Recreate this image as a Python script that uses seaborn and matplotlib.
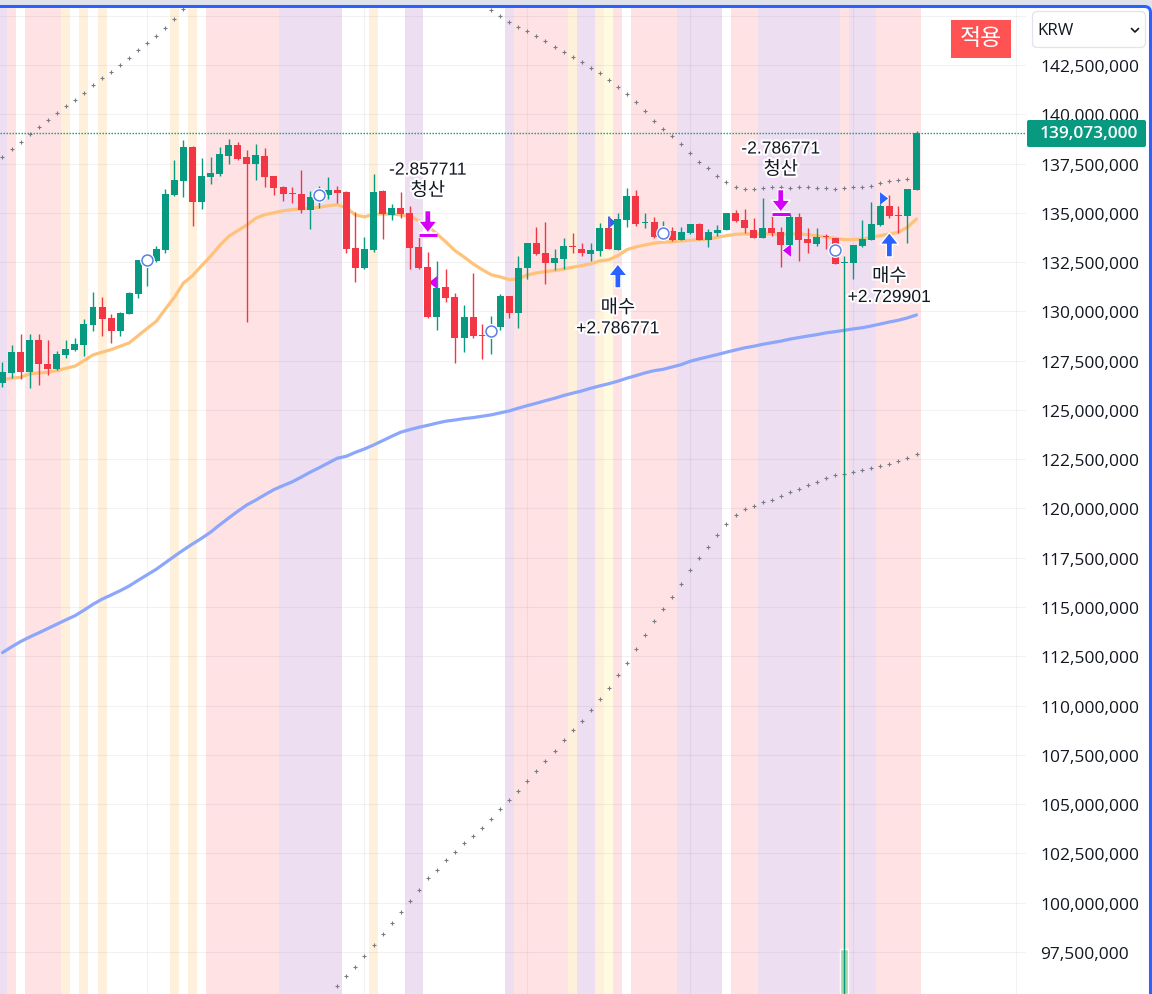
import itertools
import matplotlib
matplotlib.use('Agg')
import matplotlib.pyplot as plt
import matplotlib.patheffects as pe
from matplotlib.patches import FancyBboxPatch, Rectangle
from matplotlib.ticker import FuncFormatter
import numpy as np
import pandas as pd
import seaborn as sns

sns.set_theme(style='white')
plt.rcParams['font.family'] = ['Open Sans', 'Noto Sans CJK KR', 'DejaVu Sans']

# price values in millions of KRW, one per candle
opens = [126.37, 126.88, 127.93, 126.94, 128.55, 127.32, 127.08, 127.79, 128.04, 128.30,
         129.31, 130.23, 129.67, 129.01, 129.87, 130.88, 132.36, 132.56, 133.12, 135.91,
         136.62, 138.34, 135.55, 136.82, 136.97, 137.89, 138.44, 137.83, 137.48, 137.89,
         136.87, 136.31, 136.01, 135.96, 135.15, 135.70, 135.91, 136.16, 136.06, 133.22,
         132.20, 133.12, 136.11, 134.89, 135.25, 135.00, 133.27, 132.25, 129.72, 131.24,
         130.73, 128.65, 129.72, 128.80, 128.75, 129.21, 130.78, 129.92, 132.20, 133.47,
         132.96, 132.46, 132.66, 133.32, 133.17, 132.91, 133.07, 134.23, 133.12, 134.64,
         135.86, 134.49, 134.54, 133.78, 134.08, 133.62, 133.98, 134.44, 133.62, 133.98,
         134.13, 135.00, 134.64, 134.13, 133.73, 134.23, 134.03, 133.37, 134.79, 133.67,
         133.42, 133.83, 133.73, 132.46, 132.46, 133.32, 133.62, 134.38, 135.35, 134.89,
         134.84, 136.16]
closes = [126.91, 127.93, 126.94, 128.55, 127.33, 127.08, 127.84, 128.09, 128.35, 129.36,
          130.23, 129.62, 129.01, 129.92, 130.94, 132.61, 132.86, 133.17, 135.96, 136.67,
          138.34, 135.55, 136.87, 137.02, 137.99, 138.44, 137.73, 137.48, 137.94, 136.82,
          136.26, 135.96, 135.96, 135.15, 135.81, 136.01, 136.16, 136.01, 133.17, 132.20,
          133.17, 136.06, 134.94, 135.25, 134.94, 133.22, 132.20, 129.72, 131.19, 130.68,
          128.65, 129.72, 128.75, 128.75, 129.21, 130.78, 129.92, 132.20, 133.47, 132.91,
          132.46, 132.71, 133.32, 133.27, 132.96, 133.12, 134.23, 133.17, 134.69, 135.86,
          134.44, 134.54, 133.78, 134.08, 133.62, 134.03, 134.44, 133.62, 134.03, 134.13,
          135.00, 134.59, 134.23, 133.73, 134.23, 133.98, 133.37, 134.79, 133.62, 133.47,
          133.78, 133.78, 132.41, 132.51, 133.37, 133.67, 134.44, 135.35, 134.84, 134.84,
          136.21, 139.07]
highs = [127.42, 128.30, 128.86, 128.86, 128.86, 128.55, 127.98, 128.55, 128.65, 129.62,
         130.99, 130.73, 129.87, 129.97, 130.99, 132.61, 132.86, 133.32, 136.21, 137.68,
         138.70, 138.39, 137.78, 137.83, 138.34, 138.75, 138.60, 138.19, 138.49, 138.29,
         136.87, 136.36, 136.31, 137.17, 136.11, 136.36, 136.82, 136.36, 136.11, 135.04,
         133.78, 136.97, 136.16, 135.45, 136.06, 135.35, 133.78, 133.02, 132.56, 132.15,
         130.94, 130.33, 131.95, 129.36, 129.77, 130.88, 130.78, 132.81, 133.47, 134.28,
         134.54, 133.17, 133.73, 133.98, 133.47, 133.47, 134.49, 134.84, 134.99, 136.26,
         136.16, 134.99, 134.79, 134.59, 134.28, 134.28, 134.44, 134.49, 134.18, 134.38,
         135.00, 135.15, 135.20, 134.74, 135.75, 134.84, 134.28, 134.94, 135.00, 134.23,
         134.23, 133.93, 133.73, 132.81, 133.37, 134.64, 135.55, 135.45, 135.91, 135.35,
         136.21, 139.15]
lows = [126.18, 126.61, 126.57, 126.13, 126.27, 126.78, 127.04, 127.64, 127.99, 127.74,
        129.01, 128.75, 128.40, 128.75, 129.87, 130.68, 131.29, 132.51, 132.96, 135.86,
        135.81, 134.33, 135.20, 136.46, 136.87, 137.48, 137.68, 129.46, 136.67, 136.31,
        135.91, 135.60, 135.50, 135.00, 134.18, 135.25, 135.70, 135.50, 132.96, 131.49,
        132.15, 133.02, 133.67, 134.64, 134.74, 132.15, 132.15, 129.67, 129.06, 130.48,
        127.38, 127.94, 128.65, 127.59, 127.84, 129.06, 129.67, 129.16, 131.65, 132.86,
        131.39, 132.10, 132.15, 132.96, 132.81, 132.56, 132.81, 133.17, 133.12, 134.28,
        134.33, 134.23, 133.73, 133.67, 133.57, 133.62, 133.93, 133.62, 133.27, 133.83,
        134.13, 134.54, 133.98, 133.73, 133.73, 133.83, 132.25, 133.37, 132.56, 132.96,
        133.32, 133.17, 132.41, 95.12, 131.65, 133.27, 133.62, 134.33, 134.74, 133.98,
        133.47, 136.16]

ma_fast = [126.54, 126.61, 126.66, 126.83, 126.88, 126.91, 126.99, 127.11, 127.22, 127.50,
           127.79, 127.93, 128.06, 128.23, 128.40, 128.77, 129.14, 129.50, 130.12, 130.72,
           131.44, 131.81, 132.32, 132.80, 133.34, 133.81, 134.10, 134.38, 134.73, 134.91,
           135.00, 135.10, 135.16, 135.20, 135.23, 135.28, 135.36, 135.41, 135.25, 134.89,
           134.79, 134.94, 134.94, 134.94, 134.89, 134.84, 134.60, 134.35, 133.93, 133.52,
           133.08, 132.76, 132.41, 132.12, 131.86, 131.75, 131.61, 131.65, 131.85, 131.95,
           132.02, 132.07, 132.15, 132.24, 132.32, 132.41, 132.56, 132.62, 132.83, 133.13,
           133.27, 133.37, 133.46, 133.51, 133.54, 133.57, 133.61, 133.64, 133.67, 133.76,
           133.84, 133.91, 133.93, 133.93, 133.93, 133.93, 133.89, 133.93, 133.93, 133.89,
           133.84, 133.76, 133.71, 133.64, 133.64, 133.67, 133.76, 133.84, 133.93, 134.01,
           134.27, 134.69]
ma_slow = [112.69, 112.98, 113.25, 113.48, 113.69, 113.91, 114.13, 114.35, 114.56, 114.84,
           115.14, 115.40, 115.61, 115.83, 116.07, 116.36, 116.64, 116.92, 117.25, 117.58,
           117.90, 118.20, 118.49, 118.80, 119.17, 119.52, 119.86, 120.18, 120.43, 120.70,
           120.96, 121.16, 121.35, 121.59, 121.84, 122.07, 122.31, 122.55, 122.65, 122.85,
           123.02, 123.22, 123.44, 123.66, 123.87, 124.00, 124.12, 124.22, 124.33, 124.43,
           124.49, 124.56, 124.61, 124.68, 124.75, 124.85, 124.95, 125.09, 125.22, 125.34,
           125.47, 125.59, 125.73, 125.85, 125.96, 126.10, 126.22, 126.33, 126.46, 126.61,
           126.74, 126.88, 126.99, 127.06, 127.18, 127.30, 127.47, 127.59, 127.70, 127.81,
           127.93, 128.04, 128.15, 128.23, 128.33, 128.41, 128.49, 128.59, 128.67, 128.75,
           128.82, 128.91, 128.97, 129.04, 129.11, 129.17, 129.26, 129.36, 129.46, 129.55,
           129.67, 129.82]

# dotted upper/lower bands, only the part that shows in the pane
upper_a_idx = list(range(0, 21))
upper_a = [137.83, 138.23, 138.58, 138.99, 139.34, 139.70, 140.05, 140.41, 140.71, 141.07,
           141.47, 141.83, 142.13, 142.49, 142.84, 143.25, 143.60, 143.96, 144.36, 144.82,
           145.33]
upper_b_idx = list(range(54, 102))
upper_b = [145.28, 144.97, 144.67, 144.41, 144.21, 143.96, 143.70, 143.40, 143.15, 142.89,
           142.64, 142.33, 142.08, 141.73, 141.37, 141.02, 140.61, 140.15, 139.65, 139.24,
           138.88, 138.48, 138.02, 137.57, 137.26, 136.86, 136.55, 136.30, 136.20, 136.20,
           136.25, 136.30, 136.30, 136.25, 136.30, 136.30, 136.25, 136.25, 136.20, 136.25,
           136.30, 136.30, 136.35, 136.50, 136.60, 136.65, 136.70, 136.79]
lower_idx = list(range(37, 102))
lower = [95.76, 96.27, 96.73, 97.29, 97.84, 98.40, 98.96, 99.52, 100.08, 100.63,
         101.24, 101.65, 102.16, 102.56, 103.02, 103.37, 103.78, 104.24, 104.74, 105.20,
         105.66, 106.16, 106.67, 107.18, 107.69, 108.24, 108.75, 109.21, 109.77, 110.32,
         110.88, 111.54, 112.15, 112.86, 113.57, 114.28, 114.89, 115.50, 116.16, 116.87,
         117.48, 118.03, 118.64, 119.20, 119.66, 119.96, 120.11, 120.32, 120.42, 120.62,
         120.83, 120.98, 121.18, 121.33, 121.54, 121.69, 121.74, 121.84, 121.94, 122.04,
         122.14, 122.24, 122.40, 122.55, 122.75]

# session colour of each candle
sessions = (['v'] + ['p'] + ['w'] + ['p'] * 4 + ['c', 'w', 'c', 'w', 'c'] + ['w'] * 7
            + ['c', 'w', 'c', 'w'] + ['p'] * 8 + ['v'] * 7 + ['w'] * 3 + ['c'] + ['w'] * 3
            + ['v'] * 2 + ['w'] * 9 + ['v'] + ['p'] * 6 + ['c'] + ['v'] * 2
            + ['c', 'y', 'p', 'w'] + ['p'] * 5 + ['v'] * 5 + ['w'] + ['p'] * 3
            + ['v'] * 9 + ['p'] + ['v'] * 3 + ['p'] * 5)
session_colors = {'v': '#eedef1', 'p': '#fee2e4', 'c': '#fff0db', 'y': '#fffbe0'}

# signals
circle_idx = [16, 35, 54, 73, 92]
circle_price = [132.61, 135.91, 129.00, 133.98, 133.12]
buy_idx = [68, 98]
buy_tip = [132.41, 134.00]
buy_tail = [131.19, 132.76]
buy_labels = ['+2.786771', '+2.729901']
sell_idx = [47, 86]
sell_tip = [133.98, 135.04]
sell_tail = [135.11, 136.18]
sell_bar = [133.86, 134.92]
sell_labels = ['-2.857711', '-2.786771']
flag_right_idx = [67.4, 97.4]
flag_right_price = [134.53, 135.73]
flag_left_idx = [47.5, 86.6]
flag_left_price = [131.49, 133.12]

volume_idx = [93]
volume_top = [97.66]

last_price = 139.073
price_ticks = np.arange(97.5, 145.1, 2.5)
time_ticks = [16, 40, 58, 76, 94, 112]

GREEN = '#089981'
RED = '#f23645'
BLUE = '#2962ff'
MAGENTA = '#d500f9'
INK = '#131722'

df = pd.DataFrame({'idx': np.arange(len(opens)), 'open': opens, 'close': closes,
                   'high': highs, 'low': lows, 'ma_fast': ma_fast, 'ma_slow': ma_slow})
df['color'] = np.where(df['close'] >= df['open'], GREEN, RED)

W, H = 1152, 995
fig = plt.figure(figsize=(W / 100, H / 100), dpi=100, facecolor='white')

# page behind the chart
bg = fig.add_axes([0, 0, 1, 1], zorder=-1)
bg.set_xlim(0, W)
bg.set_ylim(H, 0)
bg.axis('off')
bg.add_patch(Rectangle((0, 0), W, 12, fc='#e0e3eb', ec='none'))
bg.add_patch(FancyBboxPatch((-20, 7.5), W + 18.5, H + 30, boxstyle='round,pad=0,rounding_size=6',
                            fc='white', ec=BLUE, lw=2.2))

ax = fig.add_axes([0, 0, 1026 / W, 986 / H], zorder=1)
ax.patch.set_alpha(0)
for s in ax.spines.values():
    s.set_visible(False)
ax.set_xlim(-0.276, 113.1)
ax.set_ylim(95.37, 145.39)

# session bands
for key, grp in itertools.groupby(enumerate(sessions), key=lambda t: t[1]):
    if key == 'w':
        continue
    grp = list(grp)
    ax.axvspan(grp[0][0] - 0.5, grp[-1][0] + 0.5, color=session_colors[key], lw=0, zorder=0)

ax.set_axisbelow('line')
ax.set_xticks(time_ticks)
ax.set_yticks(price_ticks)
ax.grid(True, color='#2a2e39', alpha=0.06, lw=0.85)
ax.tick_params(axis='x', length=0, labelbottom=False)
ax.yaxis.tick_right()
# the 145,000,000 label is hidden behind the currency box in the original
ax.yaxis.set_major_formatter(FuncFormatter(lambda v, _: '' if v > 144 else f'{v * 1e6:,.0f}'))
ax.tick_params(axis='y', length=0, pad=10.1, labelsize=12.5, labelcolor=INK, labelright=True, labelleft=False)
for lab in ax.get_yticklabels():
    lab.set_family(['Open Sans', 'DejaVu Sans'])

# volume stub at the bottom
ax.bar(volume_idx, np.array(volume_top) - 95.37, bottom=95.37, width=0.9, color='#aad4a9', zorder=1.2)

# moving averages
sns.lineplot(data=df, x='idx', y='ma_slow', color='#8ca6fb', lw=2.3, ax=ax, zorder=2, legend=False)
sns.lineplot(data=df, x='idx', y='ma_fast', color='#ffc27a', lw=2.3, ax=ax, zorder=2, legend=False)
ax.set_xlabel('')
ax.set_ylabel('')

# dotted bands
for xs, ys in [(upper_a_idx, upper_a), (upper_b_idx, upper_b), (lower_idx, lower)]:
    sns.scatterplot(x=xs, y=ys, marker='+', s=7, color='#787b86', linewidth=0.8, ax=ax, zorder=2.2, legend=False)

# last price line
ax.axhline(last_price, color=GREEN, lw=1.0, ls=(0, (1, 1.16)), zorder=2.3)

# small triangles sit under the candles
tri_right = [(-0.64, -1), (0.64, 0), (-0.64, 1)]
tri_left = [(0.64, -1), (-0.64, 0), (0.64, 1)]
ax.scatter(flag_right_idx, flag_right_price, marker=tri_right, s=100, color=BLUE, edgecolors='white', linewidths=0.7, zorder=2.5)
ax.scatter(flag_left_idx, flag_left_price, marker=tri_left, s=100, color=MAGENTA, edgecolors='white', linewidths=0.7, zorder=2.5)

# candles
ax.vlines(df['idx'], df['low'], df['high'], colors=df['color'], lw=1.0, zorder=3)
ax.bar(df['idx'], (df['close'] - df['open']).abs().clip(lower=0.04), bottom=df[['open', 'close']].min(axis=1),
       width=0.77, color=df['color'], lw=0, zorder=3.1)

# round signals
sns.scatterplot(x=circle_idx, y=circle_price, marker='o', s=115, color='white', linewidth=0, ax=ax, zorder=4, legend=False)
sns.scatterplot(x=circle_idx, y=circle_price, marker='o', s=62, color='white', edgecolor='#5a80e8', linewidth=1.1,
                ax=ax, zorder=4.1, legend=False)

halo = [pe.withStroke(linewidth=3, foreground='white')]
num_font = ['Liberation Sans', 'DejaVu Sans']
kor_font = ['Noto Sans CJK KR', 'DejaVu Sans']


def draw_arrow(x, tip, tail, color):
    ax.annotate('', xy=(x, tip), xytext=(x, tail), zorder=5,
                arrowprops=dict(width=4.4, headwidth=13.5, headlength=8.5, shrink=0, fc=color, ec='white', lw=1.0))


def draw_label(x, y, text, off_px, font, size):
    ax.annotate(text, xy=(x, y), xytext=(0, off_px), textcoords='offset pixels', ha='center', va='center',
                fontsize=size, color=INK, family=font, path_effects=halo, zorder=6)


for x, tip, tail, txt in zip(buy_idx, buy_tip, buy_tail, buy_labels):
    draw_arrow(x, tip, tail, BLUE)
    draw_label(x, tip, '매수', -43.5, kor_font, 13.5)
    draw_label(x, tip, txt, -65, num_font, 12.6)

for x, tip, tail, bar, txt in zip(sell_idx, sell_tip, sell_tail, sell_bar, sell_labels):
    draw_arrow(x, tip, tail, MAGENTA)
    ax.hlines(bar, x - 0.98, x + 0.98, color=MAGENTA, lw=2.2, zorder=5.1, path_effects=[pe.withStroke(linewidth=4, foreground='white')])
    draw_label(x, tail, '청산', 20.5, kor_font, 13.5)
    draw_label(x, tail, txt, 40.5, num_font, 12.6)

# controls on top of everything
ui = fig.add_axes([0, 0, 1, 1], zorder=5)
ui.patch.set_alpha(0)
ui.set_xlim(0, W)
ui.set_ylim(H, 0)
ui.axis('off')
ui.add_patch(Rectangle((951, 21), 60, 38, fc='#ff5252', ec='none'))
ui.text(981, 38.5, '적용', color='white', fontsize=16.5, ha='center', va='center', family=kor_font)
ui.add_patch(FancyBboxPatch((1032.5, 12.5), 113, 36, boxstyle='round,pad=0,rounding_size=5', fc='white', ec='#e0e3eb', lw=0.9))
ui.text(1037, 31, 'KRW', color=INK, fontsize=12.2, ha='left', va='center', family=['Open Sans', 'DejaVu Sans'])
ui.plot([1131.5, 1135, 1138.5], [29.5, 33, 29.5], color=INK, lw=1.2)
ui.add_patch(FancyBboxPatch((1027, 121), 119, 27, boxstyle='round,pad=0,rounding_size=2', fc=GREEN, ec='none'))
ui.text(1138, 134, f'{last_price * 1e6:,.0f}', color='white', fontsize=12.5, fontweight='semibold', ha='right', va='center',
        family=['Open Sans', 'DejaVu Sans'])

fig.savefig('out.png', dpi=100)
